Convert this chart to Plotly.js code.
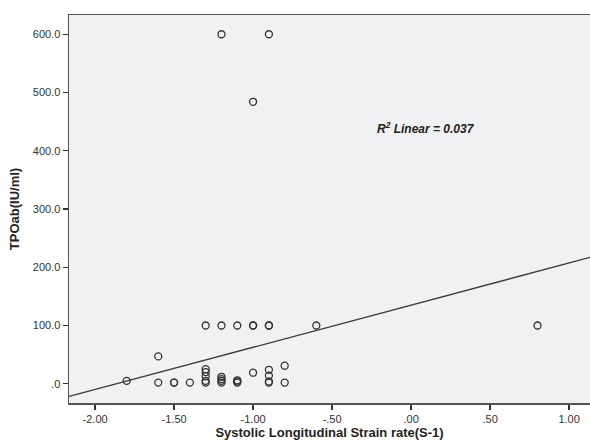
<!DOCTYPE html>
<html>
<head>
<meta charset="utf-8">
<script src="https://cdn.plot.ly/plotly-3.0.1.min.js"></script>
<style>html,body{margin:0;padding:0;background:#fff;}</style>
</head>
<body>
<div id="chart" style="width:590px;height:440px;"></div>
<script>
// Observed points (Systolic Longitudinal Strain rate, TPOab)
const strainRate = [
  -1.2, -0.9, -1.0,
  -1.3, -1.2, -1.1, -1.0, -1.0, -0.9, -0.9, -0.6, 0.8,
  -1.6, -1.8, -1.6, -1.5, -1.5, -1.4,
  -1.3, -1.3, -1.3, -1.3, -1.3,
  -1.2, -1.2, -1.2, -1.2,
  -1.1, -1.1, -1.1,
  -1.0,
  -0.9, -0.9, -0.9, -0.9,
  -0.8, -0.8
];
const tpoab = [
  600, 600, 484,
  100, 100, 100, 100, 100, 100, 100, 100, 100,
  47, 5, 2, 2, 2, 2,
  25, 20, 13, 5, 2,
  12, 8, 5, 2,
  6, 4, 2,
  19,
  24, 14, 4, 2,
  31, 2
];
// Linear fit shown in the chart
const fitIntercept = 135;
const fitSlope = 72.4;
const xRange = [-2.165, 1.132];
const yRange = [-33, 633];
const xTickVals = [-2, -1.5, -1, -0.5, 0, 0.5, 1];
const xTickText = ['-2.00', '-1.50', '-1.00', '-.50', '.00', '.50', '1.00'];
const yTickVals = [0, 100, 200, 300, 400, 500, 600];
const yTickText = ['.0', '100.0', '200.0', '300.0', '400.0', '500.0', '600.0'];

const fitX = xRange.slice();
const fitY = fitX.map(x => fitIntercept + fitSlope * x);

const traces = [
  {
    x: fitX, y: fitY, type: 'scatter', mode: 'lines',
    line: {color: '#3a3a3a', width: 1.3}, hoverinfo: 'skip'
  },
  {
    x: strainRate, y: tpoab, type: 'scatter', mode: 'markers',
    marker: {symbol: 'circle-open', size: 7, color: '#333', line: {width: 1.3, color: '#333'}},
    cliponaxis: false
  }
];

const axisCommon = {
  showgrid: false, zeroline: false, showline: true, mirror: true,
  linecolor: '#555', linewidth: 1.5,
  ticks: 'outside', ticklen: 5, tickwidth: 1.3, tickcolor: '#333',
  tickfont: {family: 'Liberation Sans, Arial, sans-serif', size: 11, color: '#333'}
};

const layout = {
  width: 590, height: 440,
  margin: {l: 69, r: 0, t: 15, b: 37},
  paper_bgcolor: '#ffffff',
  plot_bgcolor: '#f0f1f2',
  showlegend: false,
  xaxis: Object.assign({}, axisCommon, {
    range: xRange, tickmode: 'array', tickvals: xTickVals, ticktext: xTickText,
    title: {text: '<b>Systolic Longitudinal Strain rate(S-1)</b>', standoff: 2,
      font: {family: 'Liberation Sans, Arial, sans-serif', size: 13, color: '#222'}}
  }),
  yaxis: Object.assign({}, axisCommon, {
    range: yRange, tickmode: 'array', tickvals: yTickVals, ticktext: yTickText,
    title: {text: '<b>TPOab(IU/ml)</b>', standoff: 10,
      font: {family: 'Liberation Sans, Arial, sans-serif', size: 13, color: '#222'}}
  }),
  annotations: [{
    x: -0.23, y: 439, xref: 'x', yref: 'y', xanchor: 'left', yanchor: 'middle',
    text: '<b><i>R<sup>2</sup> Linear = 0.037</i></b>', showarrow: false,
    font: {family: 'Liberation Sans, Arial, sans-serif', size: 12, color: '#222'}
  }]
};

Plotly.newPlot('chart', traces, layout, {displayModeBar: false, staticPlot: true});
</script>
</body>
</html>
